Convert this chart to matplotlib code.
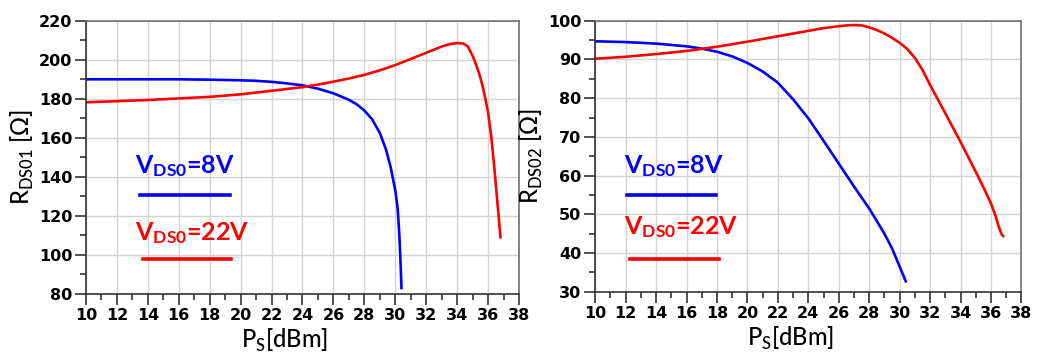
import matplotlib.pyplot as plt
import matplotlib as mpl

mpl.rcParams["mathtext.fontset"] = "custom"
mpl.rcParams["mathtext.rm"] = "Lato:medium"
mpl.rcParams["mathtext.bf"] = "Lato:bold"
mpl.rcParams["font.family"] = ["Lato", "DejaVu Sans"]

# left panel, R_DS01
x1_8v = [10, 12, 14, 16, 18, 20, 21, 22, 23, 24, 25, 26, 27, 27.5, 28, 28.5,
         29, 29.4, 29.7, 30.0, 30.15, 30.25, 30.33, 30.4]
y1_8v = [190, 190, 190, 190, 189.8, 189.5, 189.2, 188.7, 187.9, 186.9, 185.2,
         182.8, 179.5, 177.2, 174, 169.5, 162.5, 154, 145, 133, 124, 112, 98, 83]
x1_22v = [10, 12, 14, 16, 18, 20, 22, 24, 25, 26, 27, 28, 29, 30, 31, 32, 33,
          33.5, 34, 34.4, 34.7, 35.0, 35.2, 35.4, 35.6, 35.8, 36.0, 36.2, 36.4,
          36.6, 36.8]
y1_22v = [178.2, 178.8, 179.4, 180.2, 181.0, 182.3, 184.1, 186.0, 187.3, 188.8,
          190.4, 192.3, 194.6, 197.3, 200.4, 203.6, 206.8, 208.0, 208.6, 208.3,
          206.8, 202, 198, 193.5, 188, 181, 173, 161, 145, 127, 109]

# right panel, R_DS02
x2_8v = [10, 12, 14, 16, 17, 18, 19, 20, 21, 22, 23, 24, 25, 26, 27, 28, 29,
         29.5, 30, 30.4]
y2_8v = [94.7, 94.5, 94.1, 93.4, 92.8, 92.0, 90.8, 89.1, 86.9, 84.0, 79.7, 74.8,
         69.0, 63.1, 57.2, 51.5, 45.0, 41.2, 36.5, 32.7]
x2_22v = [10, 12, 14, 16, 18, 20, 22, 24, 25, 26, 26.5, 27, 27.5, 28, 28.5, 29,
          29.5, 30, 30.5, 31, 31.5, 32, 33, 34, 35, 35.5, 36, 36.3, 36.5, 36.7,
          36.8]
y2_22v = [90.2, 90.7, 91.4, 92.2, 93.3, 94.6, 96.0, 97.4, 98.1, 98.6, 98.8, 98.9,
          98.8, 98.3, 97.6, 96.7, 95.6, 94.3, 92.7, 90.4, 87.3, 83.4, 76.1, 68.7,
          61.0, 57.0, 52.8, 49.6, 46.9, 44.8, 44.4]

xticks = list(range(10, 39, 2))

BLUE = "#0000ff"
RED = "#ff0000"

fig = plt.figure(figsize=(10.37, 3.52), dpi=100)
ax1 = fig.add_axes([0.0829, 0.165, 0.4176, 0.776])
ax2 = fig.add_axes([0.574, 0.171, 0.411, 0.770])


def style(ax, ylim, ymajor, yminor, label):
    ax.grid(True, which="major", color="#d4d4d4", linewidth=1.0)
    ax.set_axisbelow(True)
    for s in ("top", "right"):
        ax.spines[s].set_color("#707070")
        ax.spines[s].set_linewidth(1.2)
    for s in ("left", "bottom"):
        ax.spines[s].set_color("#333333")
        ax.spines[s].set_linewidth(1.2)
    ax.tick_params(which="major", direction="out", length=8, width=1.2,
                   color="#333333", pad=2)
    ax.tick_params(which="minor", direction="out", length=4, width=1.2,
                   color="#333333")
    yt = list(range(ylim[0], ylim[1] + 1, ymajor))
    ax.set_xticks(xticks)
    ax.set_yticks(yt)
    ax.xaxis.set_minor_locator(plt.MultipleLocator(1))
    ax.yaxis.set_minor_locator(plt.MultipleLocator(yminor))
    ax.set_xlim(10, 38)
    ax.set_ylim(*ylim)
    ax.set_xticklabels([str(t) for t in xticks], fontfamily="DejaVu Sans",
                       fontweight="bold", fontsize=11.5)
    ax.set_yticklabels([str(t) for t in yt], fontfamily="DejaVu Sans",
                       fontweight="bold", fontsize=11.5)
    ax.set_xlabel(r"P$_\mathrm{S}$[dBm]", fontsize=17, fontweight="medium")
    ax.xaxis.set_label_coords(0.459, -0.12)
    ax.set_ylabel(label, fontsize=17, labelpad=2, fontweight="medium")


style(ax1, (80, 220), 20, 10, r"R$_\mathrm{DS01}$ [Ω]")
style(ax2, (30, 100), 10, 5, r"R$_\mathrm{DS02}$ [Ω]")

ax1.plot(x1_8v, y1_8v, color=BLUE, lw=1.9)
ax1.plot(x1_22v, y1_22v, color=RED, lw=1.9)
ax2.plot(x2_8v, y2_8v, color=BLUE, lw=1.9)
ax2.plot(x2_22v, y2_22v, color=RED, lw=1.9)

# in-plot legends
ax1.text(13.2, 141.9, r"$\mathbf{V_{DS0}}$=8V", color=BLUE, fontsize=18,
         fontweight="bold")
ax1.plot([13.5, 19.3], [130.6, 130.6], color=BLUE, lw=2.6)
ax1.text(13.2, 107.6, r"$\mathbf{V_{DS0}}$=22V", color=RED, fontsize=18,
         fontweight="bold")
ax1.plot([13.7, 19.4], [97.8, 97.8], color=RED, lw=2.6)

ax2.text(11.87, 60.7, r"$\mathbf{V_{DS0}}$=8V", color=BLUE, fontsize=18,
         fontweight="bold")
ax2.plot([12.1, 17.96], [55.0, 55.0], color=BLUE, lw=2.6)
ax2.text(11.87, 45.0, r"$\mathbf{V_{DS0}}$=22V", color=RED, fontsize=18,
         fontweight="bold")
ax2.plot([12.3, 18.1], [38.4, 38.4], color=RED, lw=2.6)

fig.savefig("out.png", dpi=100)
